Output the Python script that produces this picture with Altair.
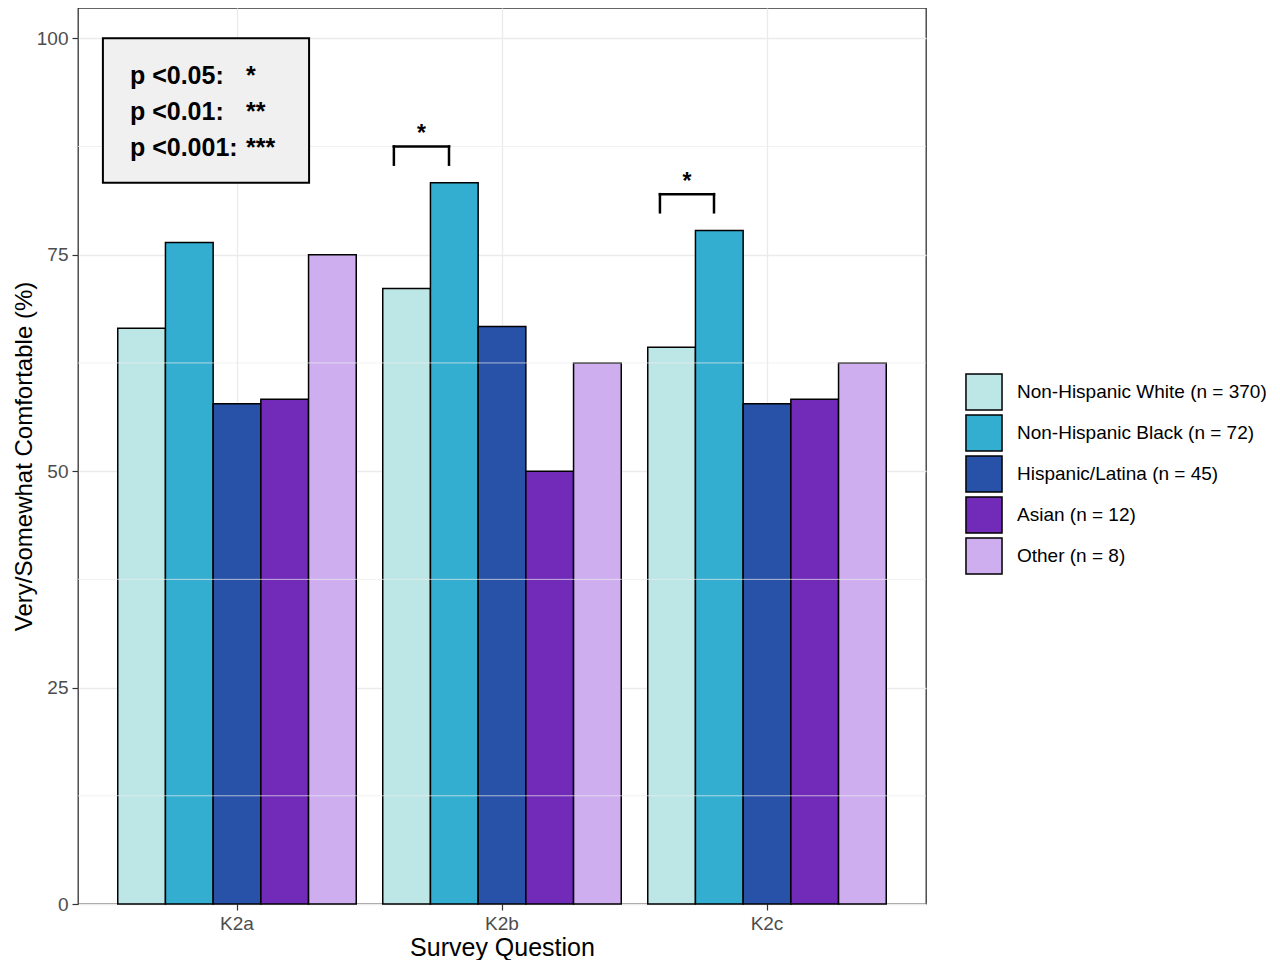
import altair as alt
import pandas as pd

# ---- data ----
questions = ["K2a", "K2b", "K2c"]
groups = [
    "Non-Hispanic White (n = 370)",
    "Non-Hispanic Black (n = 72)",
    "Hispanic/Latina (n = 45)",
    "Asian (n = 12)",
    "Other (n = 8)",
]
colors = ["#BDE7E7", "#33AED1", "#2851A8", "#722AB9", "#CEAEEF"]

white = [66.5, 71.1, 64.3]
black = [76.4, 83.3, 77.8]
hispanic = [57.8, 66.7, 57.8]
asian = [58.3, 50.0, 58.3]
other = [75.0, 62.5, 62.5]

y_breaks = [0, 25, 50, 75, 100]
minor_breaks = [12.5, 37.5, 62.5, 87.5]

# significance legend box (data coordinates: x in question units, y in %)
box_x = [0.494, 1.272]
box_y = [83.3, 100]
p_labels = ["p <0.05:", "p <0.01:", "p <0.001:"]
p_stars = ["*", "**", "***"]
p_label_y = [95.7, 91.5, 87.3]
p_label_x = 0.596
p_star_x = 1.034

# brackets: left x, right x, top y, leg bottom y, star y
br_left = [1.592, 2.596]
br_right = [1.800, 2.800]
br_top = [87.5, 82.0]
br_bottom = [85.4, 79.9]
br_star_y = [88.9, 83.4]
br_star = ["*", "*"]

# ---- tables ----
series = [white, black, hispanic, asian, other]
rows = []
for g, vals in zip(groups, series):
    for q, v in zip(questions, vals):
        rows.append({"question": q, "group": g, "value": v})
df = pd.DataFrame(rows)

FONT = "Liberation Sans"
YDOM = [0, 103.5]
XDOM = [0.4, 3.6]

yscale = alt.Scale(domain=YDOM, nice=False, zero=True)

yaxis = alt.Axis(
    title="Very/Somewhat Comfortable (%)",
    values=y_breaks,
    grid=True,
    gridColor="#EBEBEB",
    gridWidth=1.3,
    domain=False,
    ticks=True,
    tickColor="#333333",
    tickSize=6,
    tickWidth=1.2,
    labelColor="#4D4D4D",
    labelFontSize=19,
    labelPadding=4,
    titleFontSize=24,
    titleFontWeight="normal",
    titleColor="black",
    titlePadding=0,
)

bars = alt.Chart(df).mark_bar(stroke="black", strokeWidth=1.5).encode(
    x=alt.X(
        "question:N",
        sort=questions,
        scale=alt.Scale(paddingInner=0.1, paddingOuter=0.15),
        axis=alt.Axis(
            title="Survey Question",
            labelAngle=0,
            grid=True,
            gridColor="#EBEBEB",
            gridWidth=1.3,
            domain=False,
            ticks=True,
            tickColor="#333333",
            tickSize=6,
            tickWidth=1.2,
            labelColor="#4D4D4D",
            labelFontSize=19,
            labelPadding=4,
            titleFontSize=25,
            titleFontWeight="normal",
            titleColor="black",
            titlePadding=2,
        ),
    ),
    xOffset=alt.XOffset(
        "group:N", sort=groups, scale=alt.Scale(paddingInner=0, paddingOuter=0)
    ),
    y=alt.Y("value:Q", scale=yscale, axis=yaxis),
    color=alt.Color(
        "group:N",
        sort=groups,
        scale=alt.Scale(domain=groups, range=colors),
        legend=alt.Legend(
            title=None,
            orient="none",
            legendX=887,
            legendY=365,
            symbolType="square",
            symbolSize=1300,
            symbolStrokeColor="black",
            symbolStrokeWidth=1.5,
            symbolOpacity=1,
            labelFontSize=19,
            labelColor="black",
            labelOffset=14,
            labelLimit=0,
            rowPadding=-8,
        ),
    ),
)

minor = alt.Chart(pd.DataFrame({"y": minor_breaks})).mark_rule(
    color="#EBEBEB", strokeWidth=0.7
).encode(y=alt.Y("y:Q", scale=yscale))

xq = alt.Scale(domain=XDOM, nice=False, zero=False)

box_df = pd.DataFrame({"x": [box_x[0]], "x2": [box_x[1]], "y": [box_y[0]], "y2": [box_y[1]]})
box = alt.Chart(box_df).mark_rect(fill="#F0F0F0", stroke="black", strokeWidth=2).encode(
    x=alt.X("x:Q", scale=xq, axis=None),
    x2="x2:Q",
    y=alt.Y("y:Q", scale=yscale),
    y2="y2:Q",
)

ptext_df = pd.DataFrame(
    {
        "label": p_labels,
        "star": p_stars,
        "y": p_label_y,
        "xl": [p_label_x] * len(p_labels),
        "xs": [p_star_x] * len(p_labels),
    }
)
ptext = alt.Chart(ptext_df).mark_text(
    font=FONT, fontSize=25, fontWeight="bold", align="left", baseline="middle", color="black"
).encode(
    x=alt.X("xl:Q", scale=xq, axis=None),
    y=alt.Y("y:Q", scale=yscale),
    text="label:N",
)
pstar = alt.Chart(ptext_df).mark_text(
    font=FONT, fontSize=25, fontWeight="bold", align="left", baseline="middle", color="black"
).encode(
    x=alt.X("xs:Q", scale=xq, axis=None),
    y=alt.Y("y:Q", scale=yscale),
    text="star:N",
)

seg_rows = []
for l, r, t, b in zip(br_left, br_right, br_top, br_bottom):
    seg_rows.append({"x": l, "x2": r, "y": t, "y2": t})
    seg_rows.append({"x": l, "x2": l, "y": t, "y2": b})
    seg_rows.append({"x": r, "x2": r, "y": t, "y2": b})
seg_df = pd.DataFrame(seg_rows)
brackets = alt.Chart(seg_df).mark_rule(color="black", strokeWidth=2.5, strokeCap="square").encode(
    x=alt.X("x:Q", scale=xq, axis=None),
    x2="x2:Q",
    y=alt.Y("y:Q", scale=yscale),
    y2="y2:Q",
)

bstar_df = pd.DataFrame(
    {"x": [(l + r) / 2 for l, r in zip(br_left, br_right)], "y": br_star_y, "t": br_star}
)
bstars = alt.Chart(bstar_df).mark_text(
    font=FONT, fontSize=23, fontWeight="bold", align="center", baseline="middle", color="black"
).encode(
    x=alt.X("x:Q", scale=xq, axis=None),
    y=alt.Y("y:Q", scale=yscale),
    text="t:N",
)

annot = alt.layer(box, ptext, pstar, brackets, bstars)

chart = (
    alt.layer(bars, minor, annot)
    .resolve_scale(x="independent")
    .properties(
        width=848,
        height=896,
        padding={"left": 4, "top": 0, "right": 0, "bottom": 0},
    )
    .configure(font=FONT)
    .configure_view(stroke="#333333", strokeWidth=1.3)
    .configure_axis(labelFont=FONT, titleFont=FONT)
    .configure_legend(labelFont=FONT)
)

chart.save("out.html", embed_options={"renderer": "svg", "actions": False})
